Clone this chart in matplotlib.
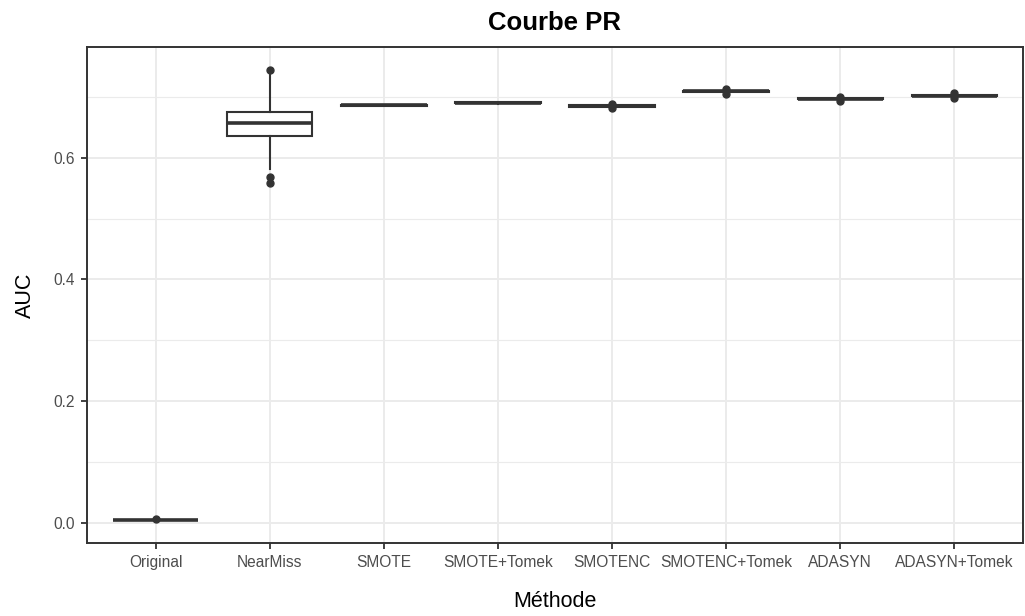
import matplotlib
matplotlib.use("Agg")
import matplotlib.pyplot as plt

plt.rcParams['font.family'] = ['Liberation Sans', 'DejaVu Sans']

# box statistics per method (AUC of the PR curve)
methods = ['Original', 'NearMiss', 'SMOTE', 'SMOTE+Tomek', 'SMOTENC',
           'SMOTENC+Tomek', 'ADASYN', 'ADASYN+Tomek']
q1 = [0.0045, 0.635, 0.6850, 0.6895, 0.6840, 0.7085, 0.6960, 0.7010]
med = [0.0050, 0.657, 0.6860, 0.6905, 0.6850, 0.7095, 0.6970, 0.7020]
q3 = [0.0055, 0.676, 0.6870, 0.6915, 0.6860, 0.7105, 0.6980, 0.7030]
whislo = [0.0040, 0.582, 0.6845, 0.6890, 0.6835, 0.7080, 0.6955, 0.7005]
whishi = [0.0060, 0.737, 0.6875, 0.6920, 0.6865, 0.7110, 0.6985, 0.7035]
fliers = [[0.0070], [0.745, 0.569, 0.558], [], [],
          [0.6815, 0.6880], [0.7045, 0.7130], [0.6935, 0.7005], [0.6990, 0.7060]]

stats = []
for i, m in enumerate(methods):
    stats.append(dict(label=m, q1=q1[i], med=med[i], q3=q3[i],
                      whislo=whislo[i], whishi=whishi[i], fliers=fliers[i]))

fig = plt.figure(figsize=(10.25, 6.16), dpi=100)
ax = fig.add_axes([0.0849, 0.1185, 0.9131, 0.8052])

dark = '#333333'
ax.bxp(stats, positions=range(1, len(methods) + 1), widths=0.75,
       patch_artist=True, showcaps=False,
       boxprops=dict(facecolor='white', edgecolor=dark, linewidth=1.5),
       medianprops=dict(color=dark, linewidth=2.6, solid_capstyle='butt'),
       whiskerprops=dict(color=dark, linewidth=1.5),
       flierprops=dict(marker='o', markerfacecolor=dark, markeredgecolor=dark,
                       markersize=5, linestyle='none'),
       zorder=3)

# ggplot-like expanded limits
lo, hi = 0.004, 0.745
pad = (hi - lo) * 0.05
ax.set_ylim(lo - pad, hi + pad)
ax.set_xlim(0.4, len(methods) + 0.6)

ax.set_yticks([0.0, 0.2, 0.4, 0.6])
ax.set_yticks([0.1, 0.3, 0.5, 0.7], minor=True)
ax.set_yticklabels(['0.0', '0.2', '0.4', '0.6'])
ax.set_xticks(range(1, len(methods) + 1))
ax.set_xticklabels(methods)

ax.grid(True, which='major', color='#EBEBEB', linewidth=1.4, zorder=0)
ax.grid(True, which='minor', axis='y', color='#EBEBEB', linewidth=0.8, zorder=0)
ax.set_axisbelow(True)

for s in ax.spines.values():
    s.set_color(dark)
    s.set_linewidth(1.4)

ax.tick_params(axis='both', which='major', length=4.5, width=1.3, color=dark,
               labelsize=11.2, labelcolor='#4D4D4D', pad=4)
ax.tick_params(axis='x', which='major', pad=4)
ax.tick_params(axis='y', which='minor', length=0)

ax.set_title('Courbe PR', fontsize=18.5, fontweight='bold', pad=12)
ax.set_xlabel('Méthode', fontsize=15.5, labelpad=15)
ax.set_ylabel('AUC', fontsize=15.5, labelpad=13)

fig.savefig('out.png', dpi=100)
